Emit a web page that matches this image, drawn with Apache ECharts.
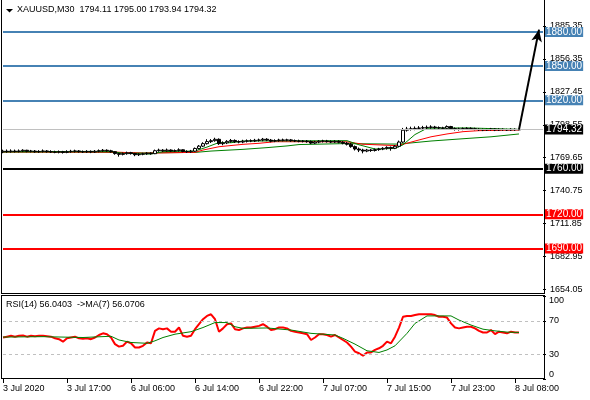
<!DOCTYPE html>
<html>
<head>
<meta charset="utf-8">
<title>XAUUSD M30</title>
<script src="https://cdn.jsdelivr.net/npm/echarts@6/dist/echarts.min.js"></script>
<style>
  html, body { margin: 0; padding: 0; background: #fff; }
  #chart { width: 590px; height: 400px; }
</style>
</head>
<body>
<div id="chart"></div>
<script>
// trading sessions on the M30 chart: [day, first bar, number of bars]
const sessions = [
  ['3 Jul', '09:00', 22],
  ['6 Jul', '01:00', 46],
  ['7 Jul', '01:00', 46],
  ['8 Jul', '01:00', 22]
]
const tickLabels = ['3 Jul 2020', '3 Jul 17:00', '6 Jul 06:00', '6 Jul 14:00', '6 Jul 22:00',
  '7 Jul 07:00', '7 Jul 15:00', '7 Jul 23:00', '8 Jul 08:00']
const priceTicks = [1654.05, 1682.95, 1711.85, 1740.75, 1769.65, 1798.55, 1827.45, 1856.35, 1885.35]
const rsiTicks = [0, 30, 70, 100]

// [open, close, low, high]
const candles = [
  [1774.8, 1775.4, 1773.6, 1776.7], [1775.4, 1775.0, 1774.0, 1776.9], [1775.0, 1775.5, 1774.1, 1777.0],
  [1775.5, 1775.1, 1774.2, 1776.8], [1775.1, 1775.6, 1774.3, 1776.9], [1775.6, 1776.2, 1774.6, 1777.1],
  [1776.2, 1775.3, 1774.4, 1776.6], [1775.3, 1775.5, 1774.3, 1776.5], [1775.5, 1774.9, 1774.0, 1776.4],
  [1774.9, 1775.2, 1773.9, 1776.3], [1775.2, 1775.6, 1774.2, 1776.9], [1775.6, 1775.0, 1774.1, 1776.4],
  [1775.0, 1774.7, 1773.8, 1776.2], [1774.7, 1774.5, 1773.6, 1775.8], [1774.5, 1775.0, 1773.5, 1776.0],
  [1775.0, 1774.3, 1773.3, 1775.7], [1774.3, 1775.0, 1773.6, 1776.2], [1775.0, 1775.3, 1774.0, 1776.6],
  [1775.3, 1775.6, 1774.2, 1776.7], [1775.6, 1775.0, 1774.1, 1776.4], [1775.0, 1774.8, 1773.8, 1776.0],
  [1774.8, 1775.2, 1773.9, 1776.3], [1775.2, 1774.7, 1773.7, 1776.1], [1774.7, 1775.3, 1773.9, 1776.4],
  [1775.3, 1775.8, 1774.4, 1776.9], [1775.8, 1776.2, 1774.8, 1777.3], [1776.2, 1775.7, 1774.8, 1777.0],
  [1775.7, 1774.9, 1774.1, 1776.6], [1774.9, 1773.3, 1772.3, 1775.4], [1773.3, 1772.6, 1770.6, 1773.9],
  [1772.6, 1773.2, 1771.7, 1774.2], [1773.2, 1774.0, 1772.3, 1775.0], [1774.0, 1773.3, 1772.4, 1774.8],
  [1773.3, 1772.3, 1771.0, 1773.9], [1772.3, 1772.7, 1771.2, 1773.6], [1772.7, 1773.1, 1771.8, 1774.0],
  [1773.1, 1773.6, 1772.2, 1774.5], [1773.6, 1773.2, 1772.3, 1774.4], [1773.2, 1775.8, 1772.8, 1776.8],
  [1775.8, 1776.3, 1774.9, 1777.6], [1776.3, 1775.7, 1774.8, 1777.2], [1775.7, 1776.4, 1774.9, 1777.7],
  [1776.4, 1775.5, 1774.6, 1777.0], [1775.5, 1775.9, 1774.7, 1776.9], [1775.9, 1776.6, 1775.0, 1777.9],
  [1776.6, 1775.1, 1774.4, 1777.0], [1775.1, 1774.9, 1773.9, 1776.2], [1774.9, 1775.4, 1774.0, 1776.5],
  [1775.4, 1777.8, 1774.8, 1778.6], [1777.8, 1779.8, 1776.9, 1780.8], [1779.8, 1782.0, 1779.0, 1783.2],
  [1782.0, 1783.8, 1781.2, 1785.9], [1783.8, 1784.6, 1782.6, 1786.0], [1784.6, 1785.8, 1783.7, 1787.2],
  [1785.8, 1782.0, 1780.9, 1786.6], [1782.0, 1782.7, 1780.6, 1784.0], [1782.7, 1784.0, 1781.6, 1785.1],
  [1784.0, 1784.8, 1782.8, 1786.1], [1784.8, 1783.7, 1782.6, 1785.7], [1783.7, 1783.4, 1782.3, 1784.9],
  [1783.4, 1784.1, 1782.4, 1785.4], [1784.1, 1784.5, 1783.0, 1785.7], [1784.5, 1784.3, 1783.3, 1785.8],
  [1784.3, 1784.9, 1783.4, 1786.2], [1784.9, 1785.2, 1783.8, 1786.4], [1785.2, 1785.9, 1784.1, 1787.0],
  [1785.9, 1785.1, 1784.2, 1786.8], [1785.1, 1784.2, 1783.2, 1786.1], [1784.2, 1784.7, 1783.3, 1785.8],
  [1784.7, 1785.2, 1783.7, 1786.3], [1785.2, 1785.0, 1784.0, 1786.4], [1785.0, 1785.3, 1784.1, 1786.3],
  [1785.3, 1784.6, 1783.6, 1786.1], [1784.6, 1784.4, 1783.4, 1785.6], [1784.4, 1784.1, 1783.2, 1785.5],
  [1784.1, 1784.2, 1783.1, 1785.2], [1784.2, 1783.8, 1782.8, 1785.2], [1783.8, 1782.5, 1781.6, 1784.8],
  [1782.5, 1783.4, 1781.7, 1784.5], [1783.4, 1784.1, 1782.4, 1785.1], [1784.1, 1784.3, 1783.0, 1785.4],
  [1784.3, 1783.8, 1782.9, 1785.3], [1783.8, 1783.4, 1782.5, 1784.9], [1783.4, 1784.0, 1782.6, 1785.0],
  [1784.0, 1783.2, 1782.3, 1785.0], [1783.2, 1782.4, 1781.4, 1784.2], [1782.4, 1781.5, 1780.4, 1783.4],
  [1781.5, 1779.4, 1778.4, 1782.6], [1779.4, 1777.3, 1776.0, 1780.4], [1777.3, 1776.4, 1774.6, 1778.6],
  [1776.4, 1775.5, 1773.5, 1777.5], [1775.5, 1776.4, 1774.5, 1777.4], [1776.4, 1776.0, 1774.8, 1777.2],
  [1776.0, 1776.8, 1775.1, 1777.8], [1776.8, 1777.3, 1775.7, 1778.3], [1777.3, 1777.9, 1776.3, 1778.9],
  [1777.9, 1778.7, 1776.8, 1779.7], [1778.7, 1778.0, 1775.8, 1779.5], [1778.0, 1779.7, 1777.2, 1780.7],
  [1779.7, 1783.4, 1778.8, 1784.7], [1783.4, 1793.8, 1782.6, 1795.8], [1793.8, 1794.8, 1792.6, 1796.7],
  [1794.8, 1795.0, 1793.5, 1796.9], [1795.0, 1795.4, 1793.8, 1797.1], [1795.4, 1795.7, 1794.2, 1797.4],
  [1795.7, 1796.0, 1794.5, 1797.6], [1796.0, 1796.3, 1794.8, 1797.9], [1796.3, 1796.6, 1795.1, 1798.1],
  [1796.6, 1796.0, 1795.0, 1797.6], [1796.0, 1795.8, 1794.7, 1797.1], [1795.8, 1795.5, 1794.5, 1796.8],
  [1795.5, 1797.0, 1794.8, 1798.0], [1797.0, 1795.2, 1794.2, 1797.6], [1795.2, 1794.6, 1793.5, 1796.2],
  [1794.6, 1794.9, 1793.5, 1796.0], [1794.9, 1795.2, 1793.8, 1796.2], [1795.2, 1795.4, 1794.1, 1796.4],
  [1795.4, 1795.1, 1794.1, 1796.3], [1795.1, 1794.6, 1793.7, 1796.0], [1794.6, 1794.2, 1793.2, 1795.6],
  [1794.2, 1794.0, 1793.0, 1795.3], [1794.0, 1794.3, 1793.1, 1795.2], [1794.3, 1794.9, 1793.4, 1795.8],
  [1794.9, 1793.9, 1793.0, 1795.5], [1793.9, 1794.6, 1793.1, 1795.5], [1794.6, 1794.2, 1793.3, 1795.4],
  [1794.2, 1794.0, 1793.1, 1795.1], [1794.0, 1794.6, 1793.2, 1795.5], [1794.6, 1794.11, 1793.2, 1795.4],
  [1794.11, 1794.32, 1793.94, 1795.00]
]

// moving averages on price, read at [bar, price]
const maFast = [[0, 1775.0], [27, 1775.2], [30, 1773.5], [37, 1772.9], [40, 1775.0], [48, 1775.5],
  [51, 1779.0], [54, 1783.0], [57, 1782.8], [60, 1784.3], [86, 1784.6], [89, 1781.0], [93, 1777.3],
  [98, 1777.8], [100, 1781.0], [103, 1790.0], [106, 1795.5], [116, 1795.8], [129, 1794.5]]
const maMid = [[0, 1774.8], [28, 1774.6], [35, 1773.6], [48, 1774.4], [50, 1776.4], [54, 1779.3],
  [60, 1781.4], [64, 1782.3], [68, 1783.7], [86, 1783.6], [90, 1781.5], [98, 1780.3], [100, 1781.4],
  [103, 1784.3], [107, 1788.0], [111, 1790.5], [115, 1792.5], [119, 1793.4], [129, 1794.0]]
const maSlow = [[0, 1774.5], [25, 1774.4], [35, 1773.9], [48, 1774.3], [52, 1775.5], [60, 1777.0],
  [66, 1778.5], [71, 1780.0], [74, 1781.2], [85, 1782.0], [99, 1781.6], [107, 1784.3], [115, 1786.3],
  [122, 1788.0], [129, 1790.5]]

const blueLevels = [1880, 1850, 1820]
const blackLevels = [1760]
const redLevels = [1720, 1690]
const lastPrice = 1794.32
const trendLine = [[129, 1794.32], [134, 1882]]

const rsi = [50, 51, 52, 51, 52, 52.5, 51, 52, 51.5, 52, 52, 51.5, 51, 49, 48, 45, 49, 50, 51, 49,
  48.5, 49, 48, 50, 53, 55, 54, 50, 42, 39, 40, 45, 43, 38, 38, 40, 44, 43, 58, 61,
  60, 61, 57, 57, 62, 52, 51, 52, 60, 66, 72, 76, 78, 72, 57, 61, 66, 67, 60, 59,
  61, 62, 62, 63, 64, 66, 63, 59, 60, 62, 62, 61, 58, 57, 56, 55, 54, 47, 50, 54,
  54, 53, 51, 53, 50, 47, 44, 39, 33, 31, 28, 32, 32, 35, 37, 40, 45, 43, 51, 62,
  75, 76, 76, 77, 78, 78, 78, 78, 77, 75, 75, 74, 67, 62, 61, 62, 63, 63, 61, 58,
  56, 56, 59, 54, 57, 56, 55, 57, 56, 56.04]
const rsiMa = [[0, 50.5], [10, 51], [20, 50], [27, 51.5], [29, 47], [32, 44], [36, 43], [38, 46],
  [40, 50], [43, 54], [47, 57], [50, 62], [53, 68], [56, 68], [58, 63], [60, 61], [66, 61.5],
  [72, 59], [77, 55], [83, 53], [85, 49], [88, 42], [91, 34], [94, 32], [96, 35], [98, 40],
  [101, 55], [103, 67], [106, 76], [112, 76], [114, 71], [117, 65], [120, 60], [123, 58],
  [126, 56.5], [129, 56.07]]
const rsiLevels = [30, 70]

// bar times, 30 minutes apart within each session
const categories = []
sessions.forEach(([day, start, count]) => {
  let [h, m] = start.split(':').map(Number)
  for (let i = 0; i < count; i++) {
    categories.push(day + ' ' + String(h).padStart(2, '0') + ':' + String(m).padStart(2, '0'))
    m += 30
    if (m === 60) { m = 0; h += 1 }
  }
})

const font = 'Liberation Sans, Arial, sans-serif'
const chart = echarts.init(document.getElementById('chart'), null, { renderer: 'canvas' })

const levelLine = (value, color, width) => ({
  yAxis: value,
  lineStyle: { color: color, width: width, type: 'solid' },
  label: {
    show: true,
    position: 'end',
    distance: 2,
    formatter: value.toFixed(2),
    backgroundColor: color,
    color: '#fff',
    fontFamily: font,
    fontSize: 10,
    lineHeight: 10,
    padding: [0, 1, 0, 1]
  }
})

const frameLine = (x1, y1, x2, y2) => ({
  type: 'line',
  shape: { x1: x1, y1: y1, x2: x2, y2: y2 },
  style: { stroke: '#000', lineWidth: 1 },
  z: 10
})

const option = {
  animation: false,
  backgroundColor: '#fff',
  title: [
    {
      text: 'XAUUSD,M30  1794.11 1795.00 1793.94 1794.32',
      left: 17, top: 5, padding: 0,
      textStyle: { fontFamily: font, fontSize: 9, fontWeight: 'normal', color: '#000' }
    },
    {
      text: 'RSI(14) 56.0403  ->MA(7) 56.0706',
      left: 6, top: 300, padding: 0,
      textStyle: { fontFamily: font, fontSize: 9, fontWeight: 'normal', color: '#000' }
    }
  ],
  graphic: [
    { type: 'polygon', shape: { points: [[6, 9], [13, 9], [9.5, 12.5]] }, style: { fill: '#000' }, z: 10 },
    frameLine(1.5, 0, 1.5, 293.5),
    frameLine(1, 293.5, 545, 293.5),
    frameLine(544.5, 0, 544.5, 293.5),
    frameLine(1, 295.5, 545, 295.5),
    frameLine(1.5, 295.5, 1.5, 378.5),
    frameLine(1, 378.5, 545, 378.5),
    frameLine(544.5, 295.5, 544.5, 378.5)
  ],
  grid: [
    { left: 3, top: 0, width: 540, height: 293 },
    { left: 3, top: 296, width: 540, height: 83 }
  ],
  xAxis: [
    { gridIndex: 0, type: 'category', data: categories, boundaryGap: false, show: false },
    {
      gridIndex: 1, type: 'category', data: categories, boundaryGap: false,
      axisLine: { show: false },
      axisTick: { show: true, interval: 15, length: 4, lineStyle: { color: '#000' } },
      axisLabel: {
        interval: 15, align: 'left', margin: 5, color: '#000', fontFamily: font, fontSize: 9,
        formatter: (v, i) => tickLabels[i / 16]
      }
    }
  ],
  yAxis: [
    {
      gridIndex: 0, type: 'value', position: 'right', min: 1651, max: 1908,
      splitLine: { show: false }, axisLine: { show: false },
      axisTick: { show: true, length: 3, customValues: priceTicks, lineStyle: { color: '#000' } },
      axisLabel: {
        customValues: priceTicks, margin: 7, color: '#000', fontFamily: font, fontSize: 9,
        formatter: v => v.toFixed(2)
      }
    },
    {
      gridIndex: 1, type: 'value', position: 'right', min: 0, max: 100,
      splitLine: { show: false }, axisLine: { show: false },
      axisTick: { show: true, length: 3, customValues: rsiTicks, lineStyle: { color: '#000' } },
      axisLabel: {
        customValues: rsiTicks, margin: 6, color: '#000', fontFamily: font, fontSize: 9,
        verticalAlignMinLabel: 'bottom', verticalAlignMaxLabel: 'top'
      }
    }
  ],
  series: [
    {
      name: 'levels', type: 'line', xAxisIndex: 0, yAxisIndex: 0, data: [], z: 1,
      markLine: {
        silent: true, symbol: 'none', animation: false,
        data: [
          ...blueLevels.map(v => levelLine(v, '#4682B4', 2)),
          ...blackLevels.map(v => levelLine(v, '#000000', 2)),
          ...redLevels.map(v => levelLine(v, '#FF0000', 2)),
          levelLine(lastPrice, '#000000', 1)
        ]
      }
    },
    {
      name: 'price line', type: 'line', xAxisIndex: 0, yAxisIndex: 0, data: [], z: 1,
      markLine: {
        silent: true, symbol: 'none', label: { show: false },
        data: [{ yAxis: lastPrice, lineStyle: { color: '#C0C0C0', width: 1, type: 'solid' } }]
      }
    },
    {
      name: 'MA slow', type: 'line', xAxisIndex: 0, yAxisIndex: 0, data: maSlow, z: 2,
      showSymbol: false, lineStyle: { color: '#008000', width: 1 }
    },
    {
      name: 'MA mid', type: 'line', xAxisIndex: 0, yAxisIndex: 0, data: maMid, z: 2,
      showSymbol: false, lineStyle: { color: '#FF0000', width: 1 }
    },
    {
      name: 'MA fast', type: 'line', xAxisIndex: 0, yAxisIndex: 0, data: maFast, z: 2,
      showSymbol: false, lineStyle: { color: '#008000', width: 1 }
    },
    {
      name: 'XAUUSD', type: 'candlestick', xAxisIndex: 0, yAxisIndex: 0, data: candles,
      barWidth: 3, z: 3,
      itemStyle: { color: '#fff', color0: '#000', borderColor: '#000', borderColor0: '#000', borderWidth: 1 }
    },
    {
      name: 'trend', type: 'line', xAxisIndex: 0, yAxisIndex: 0, data: [], z: 6,
      markLine: {
        silent: true, symbol: ['none', 'arrow'], symbolSize: [8, 12], label: { show: false },
        lineStyle: { color: '#000', width: 2, type: 'solid' },
        data: [[{ coord: trendLine[0] }, { coord: trendLine[1] }]]
      }
    },
    {
      name: 'rsi levels', type: 'line', xAxisIndex: 1, yAxisIndex: 1, data: [], z: 1,
      markLine: {
        silent: true, symbol: 'none', label: { show: false },
        lineStyle: { color: '#C0C0C0', width: 1, type: [3, 3] },
        data: rsiLevels.map(v => ({ yAxis: v }))
      }
    },
    {
      name: 'RSI(14)', type: 'line', xAxisIndex: 1, yAxisIndex: 1, data: rsi, z: 3,
      showSymbol: false, lineStyle: { color: '#FF0000', width: 2 }
    },
    {
      name: 'MA(7)', type: 'line', xAxisIndex: 1, yAxisIndex: 1, data: rsiMa, z: 4,
      showSymbol: false, lineStyle: { color: '#008000', width: 1 }
    }
  ]
}

chart.setOption(option)
</script>
</body>
</html>
